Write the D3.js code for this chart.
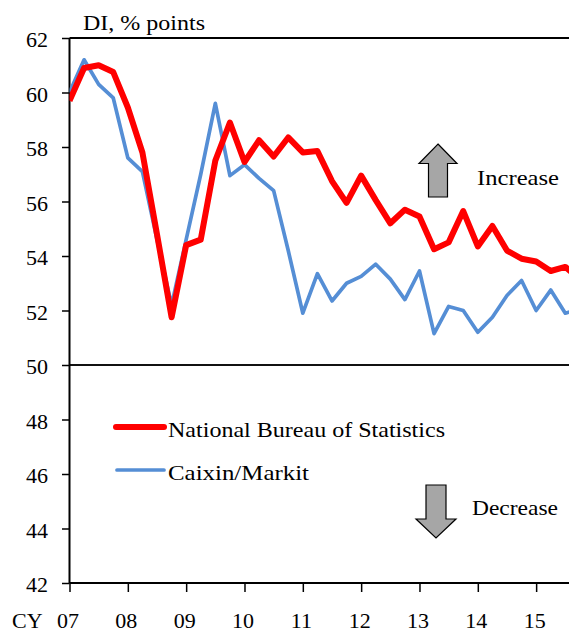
<!DOCTYPE html>
<html>
<head>
<meta charset="utf-8">
<script src="https://cdn.jsdelivr.net/npm/d3@7"></script>
<style>
  body { margin: 0; background: #fff; }
  svg text { font-family: "Liberation Serif", "Times New Roman", serif; fill: #000; }
</style>
</head>
<body>
<div id="chart"></div>
<script>
// quarterly readings, first one at start of CY2007
const years = [2007, 2008, 2009, 2010, 2011, 2012, 2013, 2014, 2015];
const yTicks = [42, 44, 46, 48, 50, 52, 54, 56, 58, 60, 62];
const nbs = [59.7, 60.9, 61.0, 60.75, 59.45, 57.8, 54.8, 51.75,
  54.4, 54.6, 57.5, 58.9, 57.45, 58.25, 57.65, 58.35,
  57.8, 57.85, 56.75, 55.95, 56.95, 56.05, 55.2, 55.7,
  55.45, 54.25, 54.5, 55.65, 54.35, 55.1, 54.2, 53.9,
  53.8, 53.45, 53.6, 53.15];
const caixin = [60.0, 61.2, 60.3, 59.8, 57.6, 57.1, 54.6, 52.2,
  54.6, 57.0, 59.6, 56.95, 57.35, 56.85, 56.4, 54.2,
  51.9, 53.35, 52.35, 53.0, 53.25, 53.7, 53.15, 52.4,
  53.45, 51.15, 52.15, 52.0, 51.2, 51.75, 52.55, 53.1,
  52.0, 52.75, 51.9, 52.05];
const seriesNames = ["National Bureau of Statistics", "Caixin/Markit"];

const W = 569, H = 632;
const m = { left: 69.5, top: 38, bottom: 583, right: 569 };

const svg = d3.select("#chart").append("svg")
  .attr("width", W)
  .attr("height", H);

const x = d3.scaleLinear()
  .domain([2007, 2015.75])
  .range([m.left, m.left + 8.75 * 58.33]);
const y = d3.scaleLinear()
  .domain([42, 62])
  .range([m.bottom, m.top]);

svg.append("clipPath").attr("id", "plot")
  .append("rect")
  .attr("x", m.left).attr("y", m.top - 10)
  .attr("width", m.right - m.left).attr("height", m.bottom - m.top + 20);

// y axis
const yAxis = svg.append("g")
  .attr("transform", `translate(${m.left},0)`)
  .call(d3.axisLeft(y).tickValues(yTicks).tickSize(7.5).tickPadding(14).tickSizeOuter(0));
yAxis.select(".domain").remove();
yAxis.selectAll("line").attr("stroke", "#000").attr("stroke-width", 1.5);
yAxis.selectAll("text").attr("font-size", 22).attr("dy", "0.4em")
  .attr("font-family", "Liberation Serif");

// x axis
const xAxis = svg.append("g")
  .attr("transform", `translate(0,${m.bottom})`)
  .call(d3.axisBottom(x).tickValues(years).tickSize(9).tickPadding(0).tickSizeOuter(0)
    .tickFormat(d => String(d % 100).padStart(2, "0")));
xAxis.select(".domain").remove();
xAxis.selectAll("line").attr("stroke", "#000").attr("stroke-width", 1.5);
xAxis.selectAll("text").attr("font-size", 22).attr("y", 45).attr("dy", 0).attr("x", -2)
  .attr("font-family", "Liberation Serif");

svg.append("text").attr("x", 12).attr("y", 628).attr("font-size", 22).text("CY");

// frame lines
svg.append("line").attr("x1", m.left).attr("x2", m.right).attr("y1", y(62)).attr("y2", y(62))
  .attr("stroke", "#000").attr("stroke-width", 2);
svg.append("line").attr("x1", m.left).attr("x2", m.right).attr("y1", y(50)).attr("y2", y(50))
  .attr("stroke", "#111").attr("stroke-width", 2);
svg.append("line").attr("x1", m.left).attr("x2", m.right).attr("y1", m.bottom).attr("y2", m.bottom)
  .attr("stroke", "#000").attr("stroke-width", 2);
svg.append("line").attr("x1", m.left).attr("x2", m.left).attr("y1", m.top).attr("y2", m.bottom)
  .attr("stroke", "#000").attr("stroke-width", 2);

// title
svg.append("text").attr("x", 83).attr("y", 30).attr("font-size", 22)
  .attr("textLength", 122).attr("lengthAdjust", "spacingAndGlyphs")
  .text("DI, % points");

// series
const line = d3.line()
  .x((d, i) => x(2007 + i / 4))
  .y(d => y(d));
const plot = svg.append("g").attr("clip-path", "url(#plot)");
plot.append("path").datum(caixin)
  .attr("fill", "none").attr("stroke", "#558ed5").attr("stroke-width", 3.7)
  .attr("stroke-linejoin", "round")
  .attr("d", line);
plot.append("path").datum(nbs)
  .attr("fill", "none").attr("stroke", "#ff0000").attr("stroke-width", 6)
  .attr("stroke-linejoin", "round")
  .attr("d", line);

// legend
const legend = svg.append("g");
legend.append("line").attr("x1", 116).attr("x2", 164).attr("y1", 427).attr("y2", 427)
  .attr("stroke", "#ff0000").attr("stroke-width", 6).attr("stroke-linecap", "round");
legend.append("text").attr("x", 168).attr("y", 437).attr("font-size", 22)
  .attr("textLength", 277).attr("lengthAdjust", "spacingAndGlyphs")
  .text(seriesNames[0]);
legend.append("line").attr("x1", 117).attr("x2", 164).attr("y1", 470).attr("y2", 470)
  .attr("stroke", "#558ed5").attr("stroke-width", 3.7).attr("stroke-linecap", "round");
legend.append("text").attr("x", 168).attr("y", 480).attr("font-size", 22)
  .attr("textLength", 141).attr("lengthAdjust", "spacingAndGlyphs")
  .text(seriesNames[1]);

// arrows
const arrowUp = [[438, 144], [457, 163.5], [447.5, 163.5], [447.5, 197], [428.5, 197], [428.5, 163.5], [419, 163.5]];
const arrowDown = [[426, 485], [446, 485], [446, 519], [456, 519], [436, 538], [416, 519], [426, 519]];
[arrowUp, arrowDown].forEach(pts => {
  svg.append("polygon")
    .attr("points", pts.map(p => p.join(",")).join(" "))
    .attr("fill", "#a6a6a6").attr("stroke", "#000").attr("stroke-width", 1.2);
});
svg.append("text").attr("x", 477).attr("y", 185).attr("font-size", 22)
  .attr("textLength", 82).attr("lengthAdjust", "spacingAndGlyphs").text("Increase");
svg.append("text").attr("x", 472).attr("y", 515).attr("font-size", 22)
  .attr("textLength", 86).attr("lengthAdjust", "spacingAndGlyphs").text("Decrease");
</script>
</body>
</html>
